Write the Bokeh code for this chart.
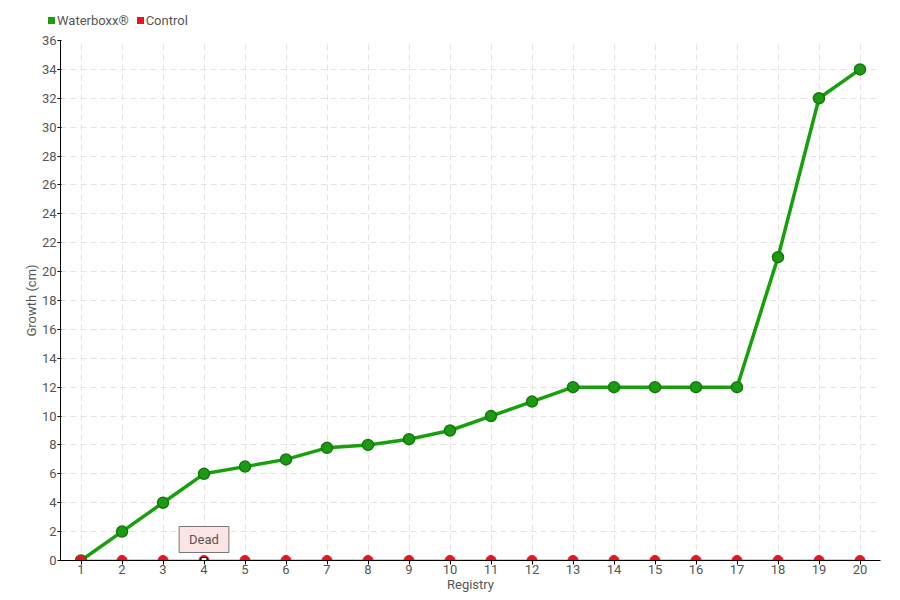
from bokeh.plotting import figure
from bokeh.layouts import column
from bokeh.models import (ColumnDataSource, FixedTicker, Label, Range1d, Div)
from bokeh.embed import file_html
from bokeh.resources import INLINE

registry = list(range(1, 21))
waterboxx = [0, 2, 4, 6, 6.5, 7, 7.8, 8, 8.4, 9, 10, 11, 12, 12, 12, 12, 12, 21, 32, 34]
control = [0] * 20
dead_registry = [4]
dead_value = [0]
y_ticks = list(range(0, 37, 2))
series_names = ["Waterboxx\u00ae", "Control"]

FONT = "Roboto"
TXT = "#555555"
GREEN = "#1a9f0a"
RED = "#ee1122"
series_colors = [GREEN, RED]

# ---- legend strip (HTML, above the chart) ----
items = []
for name, col in zip(series_names, series_colors):
    items.append(
        f'<span style="display:inline-block;width:7px;height:7px;background:{col};'
        f'margin-right:2px;vertical-align:1px;"></span>'
        f'<span style="margin-right:8px;">{name}</span>')
leg = Div(text="".join(items), width=890, height=32, margin=0,
          styles={"padding-left": "48px", "padding-top": "13px", "font-family": FONT,
                  "font-size": "13px", "color": TXT, "line-height": "16px",
                  "box-sizing": "border-box", "white-space": "nowrap"})

# ---- main chart ----
p = figure(width=890, height=564, output_backend="svg", toolbar_location=None,
           x_range=Range1d(0.5, 20.5), y_range=Range1d(0, 36),
           min_border_left=60, min_border_right=10, min_border_bottom=36, min_border_top=8)
p.outline_line_color = None
p.background_fill_color = "white"

for ax in (p.xaxis[0], p.yaxis[0]):
    ax.axis_line_color = "black"
    ax.axis_line_width = 1
    ax.major_tick_line_color = "black"
    ax.minor_tick_line_color = None
    ax.major_label_text_font = FONT
    ax.major_label_text_color = TXT
    ax.major_label_text_font_size = "13px"
    ax.axis_label_text_font = FONT
    ax.axis_label_text_color = TXT
    ax.axis_label_text_font_size = "13px"
    ax.axis_label_text_font_style = "normal"

p.xaxis.ticker = FixedTicker(ticks=registry)
p.yaxis.ticker = FixedTicker(ticks=y_ticks)
p.xaxis.axis_label = "Registry"
p.yaxis.axis_label = "Growth (cm)"
p.xaxis.major_tick_out = 4
p.xaxis.major_tick_in = 0
p.yaxis.major_tick_out = 3
p.yaxis.major_tick_in = 1
p.xaxis.major_label_standoff = 0
p.xaxis.axis_label_standoff = 0
p.yaxis.major_label_standoff = 1
p.yaxis.axis_label_standoff = 0

for g in (p.xgrid[0], p.ygrid[0]):
    g.grid_line_color = "#e3e3e3"
    g.grid_line_dash = "6 4"
    g.grid_line_width = 1

src = ColumnDataSource(dict(x=registry, w=waterboxx, c=control))

p.line("x", "w", source=src, line_color="#17a00c", line_width=3.5)
p.scatter("x", "w", source=src, size=11, fill_color="#1d9a14", line_color="#137a0a", line_width=1.5)
p.line("x", "c", source=src, line_color="#cc0011", line_width=1.5)
p.scatter("x", "c", source=src, size=10, fill_color=RED, line_color=RED)
p.scatter(dead_registry, dead_value, marker="square", size=6, fill_color="white",
          line_color="black", line_width=1.2)

lab = Label(x=dead_registry[0], y=dead_value[0], text="Dead", text_font=FONT, text_font_size="13px",
            text_color=TXT, text_align="center", text_baseline="middle", y_offset=21,
            background_fill_color="#fde4e4", border_line_color="#777777", border_line_width=1,
            padding=dict(left=10, right=10, top=5, bottom=6))
p.add_layout(lab)

open("out.html", "w").write(file_html(column(leg, p, spacing=0), INLINE))
